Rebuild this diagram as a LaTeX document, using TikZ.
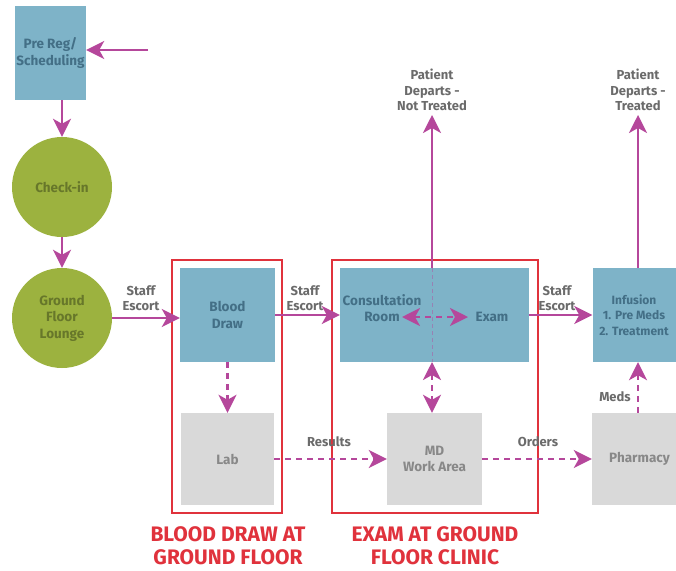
\documentclass[tikz,border=0pt]{standalone}
\usepackage{fontspec}
\setmainfont{Fira Sans}
\usetikzlibrary{arrows.meta}
\definecolor{boxblue}{HTML}{7EB3C8}
\definecolor{bluetext}{HTML}{436F86}
\definecolor{grn}{HTML}{9CB23F}
\definecolor{grntext}{HTML}{67772A}
\definecolor{gry}{HTML}{D9D9D9}
\definecolor{grytext}{HTML}{888888}
\definecolor{arrowc}{HTML}{B5479B}
\definecolor{framered}{HTML}{E0323C}
\definecolor{lbl}{HTML}{6B6B6B}
\tikzset{
  boxfont/.style={font=\fontsize{13.5}{16.5}\selectfont\bfseries},
  bluebox/.style={fill=boxblue, draw=none, text=bluetext, boxfont, align=center, inner sep=0pt},
  graybox/.style={fill=gry, draw=none, text=grytext, boxfont, align=center, inner sep=0pt},
  grncirc/.style={circle, fill=grn, draw=none, text=grntext, minimum size=100pt, boxfont, align=center, inner sep=0pt},
  framebox/.style={draw=framered, line width=2.5pt, fill=none, inner sep=0pt},
  lab/.style={text=lbl, font=\fontsize{13}{15.5}\selectfont\bfseries, align=center, inner sep=0pt},
  redlab/.style={text=framered, font=\fontsize{21}{23}\selectfont\bfseries, align=center, inner sep=0pt},
  arr/.style={draw=arrowc, line width=2.5pt, -{Stealth[length=18pt,width=18pt,inset=5pt]}},
  darr/.style={arr, dash pattern=on 6pt off 5pt},
  ddarr/.style={draw=arrowc, line width=2.5pt, dash pattern=on 6pt off 5pt, {Stealth[length=18pt,width=18pt,inset=5pt]}-{Stealth[length=18pt,width=18pt,inset=5pt]}},
}
\begin{document}
\begin{tikzpicture}[x=1pt,y=-1pt]
\useasboundingbox (0,0) rectangle (676,570);
\clip (0,0) rectangle (676,570);
\fill[white] (0,0) rectangle (676,570);

% frames
\node[framebox, minimum width=110pt, minimum height=253pt] (frameA) at (227,386.5) {};
\node[framebox, minimum width=206pt, minimum height=253pt] (frameB) at (435,386.5) {};

% boxes
\node[bluebox, minimum width=71pt, minimum height=94pt] (prereg) at (50.5,53) {Pre Reg/\\Scheduling};
\node[grncirc] (checkin) at (62,187) {Check-in};
\node[grncirc] (lounge) at (62,318) {Ground\\Floor\\Lounge};
\node[bluebox, minimum width=95pt, minimum height=94pt] (blood) at (227.5,315) {Blood\\Draw};
\node[graybox, minimum width=93pt, minimum height=92pt] (lab) at (227.5,459) {Lab};
\node[bluebox, minimum width=189pt, minimum height=94pt] (clinic) at (434.5,315) {};
\node[text=bluetext, boxfont, align=center, inner sep=0pt] (consult) at (382,308) {Consultation\\Room};
\node[text=bluetext, boxfont, inner sep=0pt] (exam) at (492,317) {Exam};
\node[graybox, minimum width=95pt, minimum height=92pt] (md) at (434.5,459) {MD\\Work Area};
\node[bluebox, minimum width=95pt, minimum height=94pt] (infusion) at (640,315) {};
\node[text=bluetext, font=\fontsize{12}{15.5}\selectfont\bfseries, align=center, inner sep=0pt] (inftext) at (634,315) {Infusion\\1. Pre Meds\\2. Treatment};
\node[graybox, minimum width=95pt, minimum height=92pt] (pharm) at (639.5,459) {Pharmacy};

% departure labels
\node[lab] (notreated) at (432,90) {Patient\\Departs -\\Not Treated};
\node[lab] (treated) at (638,90) {Patient\\Departs -\\Treated};

% edge labels
\node[lab] (se1) at (141,298) {Staff\\Escort};
\node[lab] (se2) at (305,298) {Staff\\Escort};
\node[lab] (se3) at (557,298) {Staff\\Escort};
\node[lab] (results) at (329,442) {Results};
\node[lab] (orders) at (538,442) {Orders};
\node[lab] (meds) at (615,397) {Meds};

% bottom labels
\node[redlab] (labA) at (228,546) {BLOOD DRAW AT\\GROUND FLOOR};
\node[redlab] (labB) at (435,546) {EXAM AT GROUND\\FLOOR CLINIC};

% coordinates
\coordinate (entry) at (148,50);
\coordinate (ctop) at (432,268);
\coordinate (cbot) at (432,362);
\coordinate (conR) at (402,317);
\coordinate (exL) at (468,317);
\coordinate (ntTip) at (432,115);
\coordinate (tTip) at (638,115);
\coordinate (itop) at (638,268);

% faint line inside clinic
\draw[draw=arrowc!45!boxblue, line width=1pt, dash pattern=on 4pt off 3pt] (ctop) -- (cbot);

% connectors
\draw[arr] (entry) -- (entry -| prereg.east);
\draw[arr] (prereg.south -| checkin.north) -- (checkin.north);
\draw[arr] (checkin.south) -- (lounge.north);
\draw[arr] (lounge.east) -- (lounge.east -| blood.west);
\draw[arr] (blood.east) -- (blood.east -| clinic.west);
\draw[arr] (clinic.east) -- (infusion.west);
\draw[darr] (blood.south) -- (lab.north);
\draw[ddarr] (conR) -- (exL);
\draw[ddarr] (cbot) -- (cbot |- md.north);
\draw[darr] (lab.east) -- (md.west);
\draw[darr] (md.east) -- (pharm.west);
\draw[darr] (pharm.north -| itop) -- (itop |- infusion.south);
\draw[arr] (ctop) -- (ntTip);
\draw[arr] (itop) -- (tTip);
\end{tikzpicture}
\end{document}
